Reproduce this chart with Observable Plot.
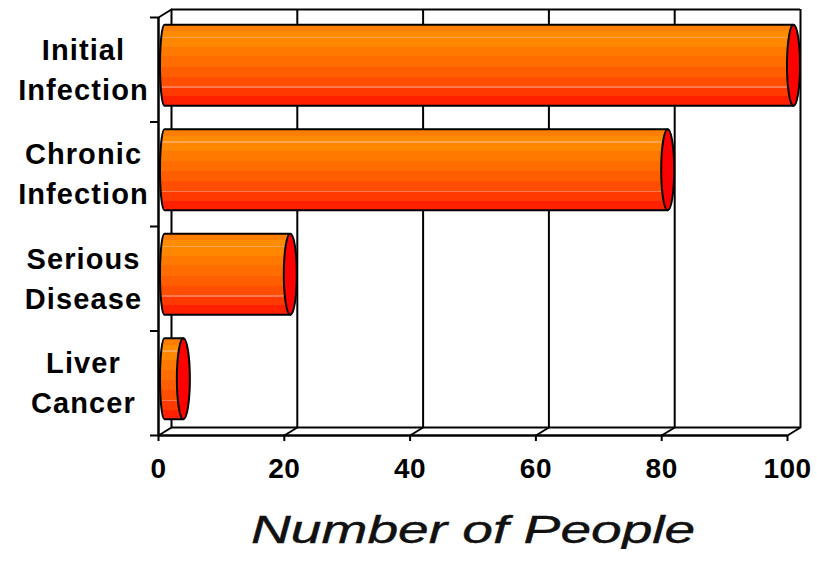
<!DOCTYPE html>
<html>
<head>
<meta charset="utf-8">
<script src="https://cdn.jsdelivr.net/npm/d3@7"></script>
<script src="https://cdn.jsdelivr.net/npm/@observablehq/plot@0.6"></script>
<style>
  html, body { margin: 0; padding: 0; background: #fff; }
  #chart svg { display: block; }
  #chart g[aria-label="x-axis tick label"] text { letter-spacing: 0.5px; }
  #chart g[aria-label="text"] text { letter-spacing: 1.1px; }
  #title {
    width: 817px; box-sizing: border-box; padding-left: 130px;
    text-align: center; margin-top: 21px; line-height: 38px; height: 38px;
  }
  #title span {
    display: inline-block; transform: scaleX(1.45); transform-origin: center;
    font-family: "Liberation Sans", Arial, sans-serif; font-style: italic;
    font-size: 38px; color: #111; -webkit-text-stroke: 0.4px #111;
  }
</style>
</head>
<body>
<div id="chart"></div>
<div id="title"><span>Number of People</span></div>
<script>
// ---- data ----
const categories = ["Initial Infection", "Chronic Infection", "Serious Disease", "Liver Cancer"];
const values = [100, 80, 20, 3];
const xTicks = [0, 20, 40, 60, 80, 100];
const rowEdges = [0, 1, 2, 3, 4];
const xLabel = "Number of People";

// ---- style ----
const stripes = [
  [0.00, "#ff7e00"], [0.08, "#ff8c00"], [0.15, "#ffa650"], [0.165, "#ff8700"],
  [0.27, "#ff7900"], [0.39, "#ff6c00"], [0.52, "#ff5e00"], [0.64, "#ff4e00"],
  [0.76, "#ff7a50"], [0.775, "#ff3a00"], [0.88, "#ff2000"]
];

const rows = categories.map((c, i) => ({category: c, label: c.replace(" ", "\n"), value: values[i], i}));
const depth = {dx: 13, dy: -8};
const mid = {dx: 6.5, dy: -4};
const lineShape = {draw(context, l) { context.moveTo(0, 0); context.lineTo(0, -l); }};
const diagLen = Math.hypot(depth.dx, depth.dy);
const diagAngle = Math.atan2(depth.dx, -depth.dy) * 180 / Math.PI;
const bandInset = 11.75;

const plot = Plot.plot({
  width: 817,
  height: 490,
  marginLeft: 158,
  marginRight: 30,
  marginTop: 17,
  marginBottom: 55,
  style: {fontFamily: "'Liberation Sans', Arial, sans-serif", color: "black", background: "white", overflow: "visible"},
  x: {domain: [0, 100]},
  y: {domain: [0, 4], reverse: true},
  marks: [
    // back wall gridlines and edges
    Plot.ruleX(xTicks, {...depth, stroke: "black", strokeWidth: 2}),
    Plot.ruleY([0, 4], {...depth, stroke: "black", strokeWidth: 2}),
    // floor and wall diagonals
    Plot.vector(xTicks, {x: d => d, y: 4, length: diagLen, rotate: diagAngle, anchor: "start", shape: lineShape, stroke: "black", strokeWidth: 2}),
    Plot.vector([0], {x: 0, y: 0, length: diagLen, rotate: diagAngle, anchor: "start", shape: lineShape, stroke: "black", strokeWidth: 2}),
    // front axis lines
    Plot.ruleX([0], {stroke: "black", strokeWidth: 2.5}),
    Plot.ruleY([4], {stroke: "black", strokeWidth: 2.5}),
    Plot.axisY(rowEdges, {tickSize: 8, tickFormat: () => "", strokeWidth: 2, label: null}),
    Plot.axisX(xTicks, {tickSize: 6, tickPadding: 17, fontSize: 28, fontWeight: "bold", strokeWidth: 2, label: null, tickFormat: d => String(d)}),
    // bar bodies
    Plot.rect(rows, {
      x1: 0, x2: "value", y1: d => d.i, y2: d => d.i + 1,
      insetTop: bandInset, insetBottom: bandInset, insetLeft: -4.5, insetRight: -4.5,
      ...mid, rx: 4.5, ry: 41,
      fill: "url(#barGrad)", stroke: "black", strokeWidth: 2
    }),
    // bar end caps
    Plot.rect(rows, {
      x1: "value", x2: "value", y1: d => d.i, y2: d => d.i + 1,
      insetTop: bandInset, insetBottom: bandInset, insetLeft: -6.5, insetRight: -6.5,
      ...mid, rx: 6.5, ry: 41,
      fill: "#ff0000", stroke: "black", strokeWidth: 2
    }),
    // category labels
    Plot.text(rows, {
      x: 0, y: d => d.i + 0.5, text: "label", dx: -75, dy: -3, textAnchor: "middle",
      lineHeight: 1.38, fontSize: 29, fontWeight: "bold", fill: "black"
    })
  ]
});

// gradient definition for the striped cylinder look
const defs = d3.select(plot).insert("defs", ":first-child");
const grad = defs.append("linearGradient").attr("id", "barGrad")
  .attr("x1", 0).attr("y1", 0).attr("x2", 0).attr("y2", 1);
stripes.forEach(([off, col], k) => {
  const next = k + 1 < stripes.length ? stripes[k + 1][0] : 1;
  grad.append("stop").attr("offset", off).attr("stop-color", col);
  grad.append("stop").attr("offset", next).attr("stop-color", col);
});

document.getElementById("chart").appendChild(plot);
document.querySelector("#title span").textContent = xLabel;
</script>
</body>
</html>
